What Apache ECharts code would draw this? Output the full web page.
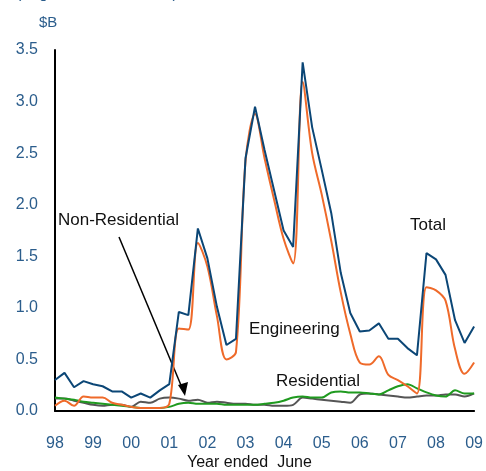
<!DOCTYPE html>
<html>
<head>
<meta charset="utf-8">
<script src="https://cdn.jsdelivr.net/npm/echarts@6/dist/echarts.min.js"></script>
<style>html,body{margin:0;padding:0;background:#fff}#c{width:486px;height:471px}</style>
</head>
<body>
<div id="c"></div>
<script>
// Quarters, June 1998 .. June 2009
const quarters = [];
const qNames = ['Jun','Sep','Dec','Mar'];
for (let i = 0; i < 45; i++) {
  const yr = 98 + Math.floor(i / 4) + (i % 4 === 3 ? 1 : 0);
  quarters.push(qNames[i % 4] + '-' + String(yr % 100).padStart(2, '0'));
}
const yearTicks = ['98','99','00','01','02','03','04','05','06','07','08','09'];

const total = [0.30,0.37,0.23,0.29,0.26,0.24,0.19,0.19,0.13,0.17,0.13,0.20,0.26,
  0.96,0.93,1.77,1.48,1.01,0.64,0.70,2.45,2.95,2.53,2.14,1.75,1.59,3.38,2.75,2.34,1.92,
  1.34,0.95,0.77,0.78,0.85,0.70,0.70,0.61,0.54,1.53,1.47,1.32,0.88,0.66,0.82];
const engineering = [0.05,0.10,0.05,0.14,0.13,0.13,0.08,0.06,0.04,0.03,0.03,0.03,0.07,
  0.80,0.79,1.63,1.40,0.92,0.50,0.57,2.42,2.88,2.45,2.05,1.67,1.43,3.19,2.50,2.10,1.65,
  1.15,0.75,0.47,0.45,0.53,0.35,0.30,0.24,0.17,1.20,1.17,1.07,0.60,0.36,0.47];
const residential = [0.13,0.12,0.11,0.09,0.08,0.07,0.06,0.05,0.04,0.03,0.03,0.03,0.04,
  0.07,0.08,0.07,0.07,0.07,0.06,0.06,0.06,0.06,0.07,0.08,0.10,0.13,0.14,0.13,0.13,0.18,
  0.19,0.18,0.18,0.17,0.16,0.20,0.24,0.26,0.22,0.18,0.15,0.14,0.20,0.17,0.17];
const nonResidential = [0.12,0.12,0.10,0.08,0.06,0.05,0.06,0.06,0.04,0.09,0.08,0.12,0.13,
  0.12,0.10,0.11,0.08,0.09,0.08,0.07,0.07,0.06,0.06,0.05,0.05,0.06,0.13,0.12,0.11,0.10,
  0.09,0.08,0.16,0.17,0.16,0.15,0.14,0.13,0.14,0.15,0.15,0.16,0.16,0.14,0.17];

const FONT = '"Liberation Sans", Arial, sans-serif';
const TICK = '#2b5d8c';

const chart = echarts.init(document.getElementById('c'));
chart.setOption({
  animation: false,
  grid: {left: 55, right: 7, top: 50, bottom: 60, containLabel: false},
  xAxis: {
    type: 'category', data: quarters, boundaryGap: false,
    axisLine: {lineStyle: {color: '#000', width: 2}},
    axisTick: {show: false},
    axisLabel: {
      interval: 3, margin: 25, color: TICK, fontFamily: FONT, fontSize: 16,
      formatter: (v, i) => yearTicks[i / 4]
    },
    splitLine: {show: false}
  },
  yAxis: {
    type: 'value', min: 0, max: 3.5, interval: 0.5,
    axisLine: {show: true, lineStyle: {color: '#000', width: 2}},
    axisTick: {show: false},
    splitLine: {show: false},
    axisLabel: {color: TICK, fontFamily: FONT, fontSize: 16, margin: 17,
      padding: [5, 0, 0, 0], formatter: v => v.toFixed(1)}
  },
  series: [
    {name: 'Non-Residential', type: 'line', data: nonResidential, symbol: 'none', smooth: 0.3,
      lineStyle: {color: '#555555', width: 2}},
    {name: 'Residential', type: 'line', data: residential, symbol: 'none', smooth: 0.3,
      lineStyle: {color: '#1f9a1f', width: 2}},
    {name: 'Engineering', type: 'line', data: engineering, symbol: 'none', smooth: 0.35,
      lineStyle: {color: '#ef6a2a', width: 2}},
    {name: 'Total', type: 'line', data: total, symbol: 'none', smooth: false,
      lineStyle: {color: '#0b4676', width: 2}}
  ],
  graphic: [
    {type: 'text', left: 16, top: -14, style: {text: '(original, annual totals)', fill: TICK, font: '16px ' + FONT}},
    {type: 'text', left: 39, top: 15, style: {text: '$B', fill: TICK, font: '15px ' + FONT}},
    {type: 'text', left: 187, top: 455, style: {text: 'Year ended  June', fill: '#111', font: '16px ' + FONT}},
    {type: 'text', left: 410, top: 217, style: {text: 'Total', fill: '#111', font: '17px ' + FONT}},
    {type: 'text', left: 249, top: 321, style: {text: 'Engineering', fill: '#111', font: '17px ' + FONT}},
    {type: 'text', left: 276, top: 373, style: {text: 'Residential', fill: '#111', font: '17px ' + FONT}},
    {type: 'text', left: 58, top: 212, style: {text: 'Non-Residential', fill: '#111', font: '17px ' + FONT}},
    {type: 'line', shape: {x1: 119, y1: 237, x2: 183, y2: 390}, style: {stroke: '#000', lineWidth: 1.5}},
    {type: 'polygon', shape: {points: [[185, 396], [178, 385], [188, 382]]}, style: {fill: '#000'}}
  ]
});
</script>
</body>
</html>
